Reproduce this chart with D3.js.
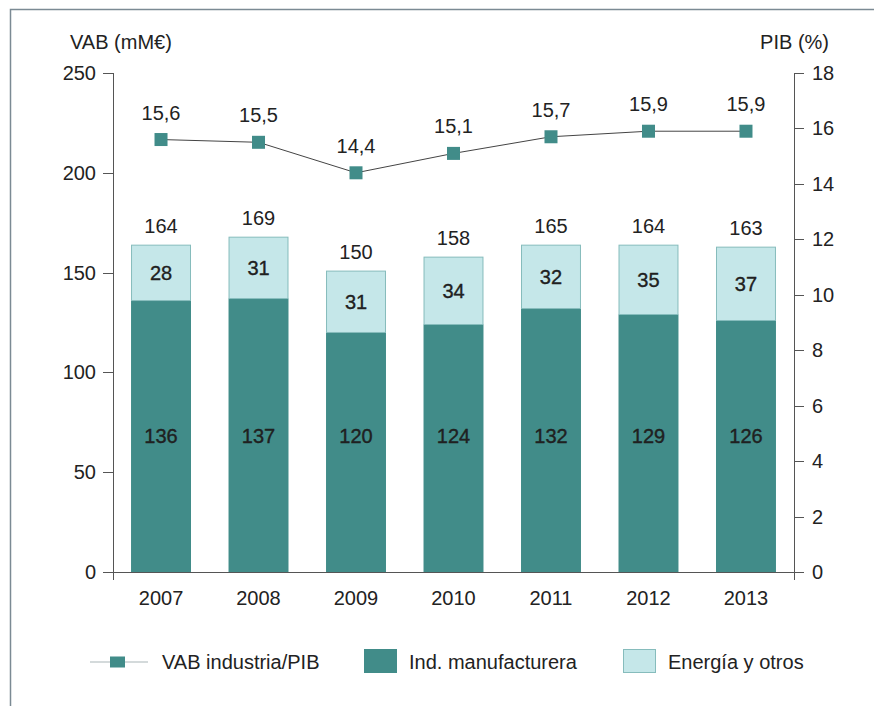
<!DOCTYPE html>
<html><head><meta charset="utf-8">
<script src="https://cdn.jsdelivr.net/npm/d3@7"></script>
<style>body{margin:0;background:#fff}svg{display:block}text{font-family:"Liberation Sans",Arial,sans-serif;fill:#222}</style>
</head><body><svg id="c" width="874" height="706"></svg>
<script>
const years = ["2007","2008","2009","2010","2011","2012","2013"];
const manufactura = [136,137,120,124,132,129,126];
const energia = [28,31,31,34,32,35,37];
const totals = [164,169,150,158,165,164,163];
const ratioPIB = [15.6,15.5,14.4,15.1,15.7,15.9,15.9];
const ratioLabels = ["15,6","15,5","14,4","15,1","15,7","15,9","15,9"];
const leftTicks = [0,50,100,150,200,250];
const rightTicks = [0,2,4,6,8,10,12,14,16,18];
const legendLabels = ["VAB industria/PIB","Ind. manufacturera","Energía y otros"];

const DARK="#418c89", LIGHT="#c5e7e9", LIGHTSTROKE="#86bcbc";
const svg = d3.select("#c");
const fs = 20;

// frame
svg.append("path").attr("d","M10.5,706 V9.5 H874").attr("fill","none").attr("stroke","#7b8a94").attr("stroke-width",1.5);

const x0=113, x1=794, yTop=73, yBot=572;
const x = d3.scaleBand().domain(years).range([x0,x1]).paddingInner(0.385).paddingOuter(0.185);
const yL = d3.scaleLinear().domain([0,250]).range([yBot,yTop]);
const yR = d3.scaleLinear().domain([0,18]).range([yBot,yTop]);

// bars
const g = svg.append("g");
years.forEach((yr,i)=>{
  const xb = x(yr), w = x.bandwidth();
  g.append("rect").attr("x",xb).attr("y",yL(manufactura[i])).attr("width",w).attr("height",yL(0)-yL(manufactura[i])).attr("fill",DARK);
  const top = manufactura[i]+energia[i];
  g.append("rect").attr("x",xb+0.5).attr("y",yL(top)+0.5).attr("width",w-1).attr("height",yL(manufactura[i])-yL(top)-0.5).attr("fill",LIGHT).attr("stroke",LIGHTSTROKE).attr("stroke-width",1);
  const cx = xb+w/2;
  g.append("text").attr("x",cx).attr("y",yL(top)-12).attr("text-anchor","middle").attr("font-size",fs).text(totals[i]);
  g.append("text").attr("x",cx).attr("y",(yL(top)+yL(manufactura[i]))/2+7).attr("text-anchor","middle").attr("font-size",fs).attr("fill","#1a1a1a").style("stroke","#1a1a1a").style("stroke-width",0.35).text(energia[i]);
  g.append("text").attr("x",cx).attr("y",yL(68)+7).attr("text-anchor","middle").attr("font-size",fs).attr("fill","#1a1a1a").style("stroke","#1a1a1a").style("stroke-width",0.35).text(manufactura[i]);
});

// axes
const axG = svg.append("g").attr("stroke","#555").attr("stroke-width",1);
axG.append("line").attr("x1",x0+0.5).attr("x2",x0+0.5).attr("y1",yTop).attr("y2",yBot+8);
axG.append("line").attr("x1",x1+0.5).attr("x2",x1+0.5).attr("y1",yTop).attr("y2",yBot+8);
axG.append("line").attr("x1",x0-8).attr("x2",x1+10).attr("y1",yBot+0.5).attr("y2",yBot+0.5);
leftTicks.forEach(t=>{
  axG.append("line").attr("x1",x0-10).attr("x2",x0).attr("y1",Math.round(yL(t))+0.5).attr("y2",Math.round(yL(t))+0.5);
  svg.append("text").attr("x",x0-17).attr("y",yL(t)+7).attr("text-anchor","end").attr("font-size",fs).text(t);
});
rightTicks.forEach(t=>{
  axG.append("line").attr("x1",x1).attr("x2",x1+10).attr("y1",Math.round(yR(t))+0.5).attr("y2",Math.round(yR(t))+0.5);
  svg.append("text").attr("x",x1+18).attr("y",yR(t)+7).attr("text-anchor","start").attr("font-size",fs).text(t);
});
years.forEach(yr=>{
  svg.append("text").attr("x",x(yr)+x.bandwidth()/2).attr("y",605).attr("text-anchor","middle").attr("font-size",fs).text(yr);
});
svg.append("text").attr("x",70).attr("y",49).attr("font-size",fs).text("VAB (mM€)");
svg.append("text").attr("x",829).attr("y",49).attr("text-anchor","end").attr("font-size",fs).text("PIB (%)");

// line
const cxs = years.map(yr=>x(yr)+x.bandwidth()/2);
const line = d3.line().x((d,i)=>cxs[i]).y(d=>yR(d));
svg.append("path").datum(ratioPIB).attr("d",line).attr("fill","none").attr("stroke","#444").attr("stroke-width",1);
ratioPIB.forEach((v,i)=>{
  svg.append("rect").attr("x",cxs[i]-6.5).attr("y",yR(v)-6.5).attr("width",13).attr("height",13).attr("fill",DARK);
  svg.append("text").attr("x",cxs[i]).attr("y",yR(v)-27+7).attr("text-anchor","middle").attr("font-size",fs).text(ratioLabels[i]);
});

// legend
const ly = 662;
svg.append("line").attr("x1",90).attr("x2",148).attr("y1",ly).attr("y2",ly).attr("stroke","#a9b6b8").attr("stroke-width",1.2);
svg.append("rect").attr("x",110).attr("y",ly-5.5).attr("width",15).attr("height",11).attr("fill",DARK);
svg.append("text").attr("x",162).attr("y",ly+7).attr("font-size",fs).text(legendLabels[0]);
svg.append("rect").attr("x",364).attr("y",649).attr("width",33).attr("height",24).attr("fill",DARK);
svg.append("text").attr("x",409).attr("y",ly+7).attr("font-size",fs).text(legendLabels[1]);
svg.append("rect").attr("x",623.5).attr("y",649.5).attr("width",32).attr("height",23).attr("fill",LIGHT).attr("stroke",LIGHTSTROKE);
svg.append("text").attr("x",668).attr("y",ly+7).attr("font-size",fs).text(legendLabels[2]);
</script></body></html>
